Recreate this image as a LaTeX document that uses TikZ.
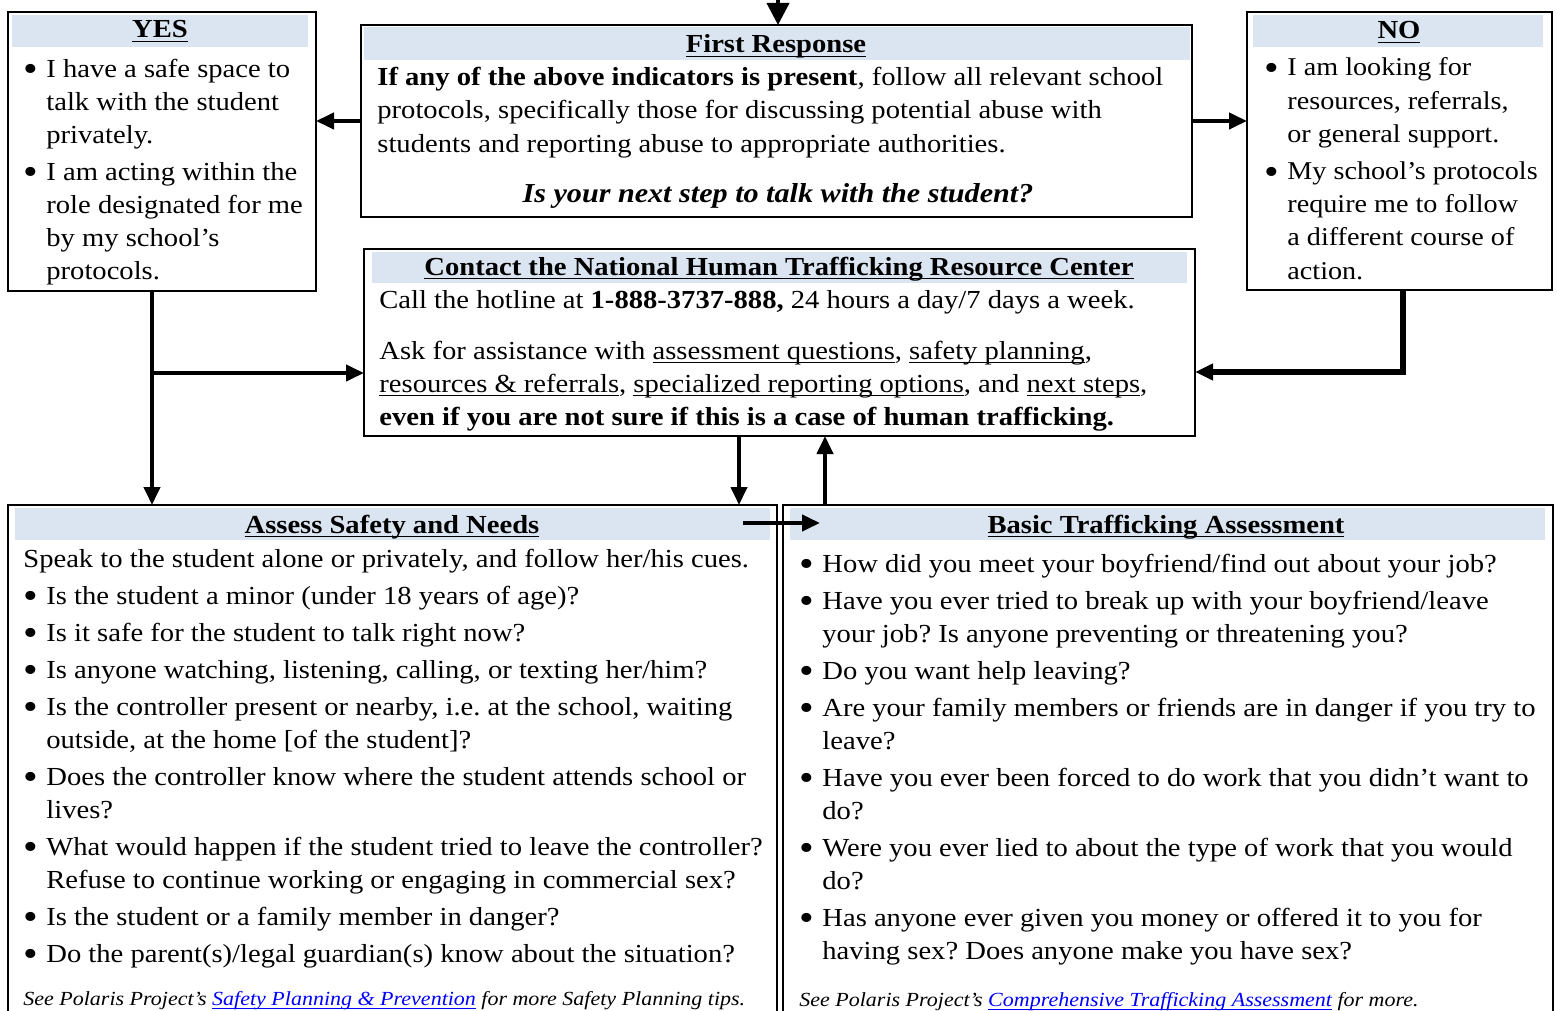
\documentclass[tikz,border=0pt]{standalone}
\usepackage{fontspec}
\setmainfont{Liberation Serif}[FakeStretch=1.1]
\usetikzlibrary{arrows.meta}
\definecolor{hdrblue}{HTML}{DBE5F1}
\definecolor{lnk}{RGB}{0,0,255}
\frenchspacing
\newsavebox\ulbox
\newcommand{\myul}[1]{\sbox\ulbox{#1}\rlap{\rule[-2.1pt]{\wd\ulbox}{0.75pt}}\usebox\ulbox}
\newcommand{\bi}{\makebox[11.5pt][l]{\raisebox{-2.4pt}{\fontsize{19}{0}\selectfont\textbullet}}}
\newcommand{\ci}{\hspace*{11.5pt}}
\begin{document}
\begin{tikzpicture}[x=0.5pt,y=-0.5pt,
  box/.style={draw, line width=1pt, inner sep=0pt, outer sep=0pt},
  body/.style={anchor=base west, inner sep=0pt, align=left, font=\fontsize{13}{16.5}\selectfont},
  ttl/.style={anchor=base, inner sep=0pt, font=\fontsize{13}{16.5}\selectfont\bfseries},
  note/.style={anchor=base west, inner sep=0pt, font=\fontsize{10}{13}\selectfont\itshape},
  arr/.style={line width=2pt, -{Triangle[length=9pt,width=8pt]}},
]
\useasboundingbox (0,0) rectangle (1557,1011);
\clip (0,0) rectangle (1557,1011);

% header fills
\fill[hdrblue] (12,15) rectangle (308,47);
\fill[hdrblue] (364,27) rectangle (1190,60);
\fill[hdrblue] (1253,15) rectangle (1543,47);
\fill[hdrblue] (372,252) rectangle (1187,283);
\fill[hdrblue] (15,508) rectangle (770,540);
\fill[hdrblue] (790,508) rectangle (1545,540);

% boxes
\node[box, minimum width=154pt, minimum height=139.5pt] (yes) at (162,151.5) {};
\node[box, minimum width=415.5pt, minimum height=96pt] (fr) at (776.5,121) {};
\node[box, minimum width=152.5pt, minimum height=139pt] (no) at (1399.5,151) {};
\node[box, minimum width=415.5pt, minimum height=93.5pt] (ct) at (779.5,342.5) {};
\node[box, minimum width=384.5pt, minimum height=262.5pt] (as) at (392.5,767.5) {};
\node[box, minimum width=385pt, minimum height=262.5pt] (bt) at (1168,767.5) {};

% YES (multi-line nodes are placed by the baseline of their last line)
\node[ttl] (yesT) at (160,38) {\myul{YES}};
\node[body] (yesB) at (23,279) {\bi I have a safe space to\\ \ci talk with the student\\ \ci privately.\\[2pt]
\bi I am acting within the\\ \ci role designated for me\\ \ci by my school’s\\ \ci protocols.};

% First Response
\node[ttl] (frT) at (776,53) {\myul{First Response}};
\node[body] (frB) at (377,152) {\textbf{If any of the above indicators is present}, follow all relevant school\\
protocols, specifically those for discussing potential abuse with\\
students and reporting abuse to appropriate authorities.};
\node[ttl, font=\fontsize{13.7}{16.5}\selectfont\bfseries\itshape] (frQ) at (778,202) {Is your next step to talk with the student?};

% NO
\node[ttl] (noT) at (1399,39) {\myul{NO}};
\node[body, font=\fontsize{12.8}{16.6}\selectfont] (noB) at (1264,279) {\bi I am looking for\\ \ci resources, referrals,\\ \ci or general support.\\[2pt]
\bi My school’s protocols\\ \ci require me to follow\\ \ci a different course of\\ \ci action.};

% Contact
\node[ttl] (ctT) at (779,275) {\myul{Contact the National Human Trafficking Resource Center}};
\node[body] (ctB) at (379,425) {Call the hotline at \textbf{1-888-3737-888,} 24 hours a day/7 days a week.\\[9pt]
Ask for assistance with \myul{assessment questions}, \myul{safety planning},\\
\myul{resources \& referrals}, \myul{specialized reporting options}, and \myul{next steps},\\
\textbf{even if you are not sure if this is a case of human trafficking.}};

% Assess
\node[ttl] (asT) at (392,533) {\myul{Assess Safety and Needs}};
\node[body] (asB) at (23,962) {Speak to the student alone or privately, and follow her/his cues.\\[2pt]
\bi Is the student a minor (under 18 years of age)?\\[2pt]
\bi Is it safe for the student to talk right now?\\[2pt]
\bi Is anyone watching, listening, calling, or texting her/him?\\[2pt]
\bi Is the controller present or nearby, i.e. at the school, waiting\\ \ci outside, at the home [of the student]?\\[2pt]
\bi Does the controller know where the student attends school or\\ \ci lives?\\[2pt]
\bi What would happen if the student tried to leave the controller?\\ \ci Refuse to continue working or engaging in commercial sex?\\[2pt]
\bi Is the student or a family member in danger?\\[2pt]
\bi Do the parent(s)/legal guardian(s) know about the situation?};
\node[note] (asN) at (23,1005) {See Polaris Project’s {\color{lnk}\myul{Safety Planning \& Prevention}} for more Safety Planning tips.};

% Basic
\node[ttl] (btT) at (1166,533) {\myul{Basic Trafficking Assessment}};
\node[body] (btB) at (799,959) {\bi How did you meet your boyfriend/find out about your job?\\[2pt]
\bi Have you ever tried to break up with your boyfriend/leave\\ \ci your job? Is anyone preventing or threatening you?\\[2pt]
\bi Do you want help leaving?\\[2pt]
\bi Are your family members or friends are in danger if you try to\\ \ci leave?\\[2pt]
\bi Have you ever been forced to do work that you didn’t want to\\ \ci do?\\[2pt]
\bi Were you ever lied to about the type of work that you would\\ \ci do?\\[2pt]
\bi Has anyone ever given you money or offered it to you for\\ \ci having sex? Does anyone make you have sex?};
\node[note] (btN) at (799,1006) {See Polaris Project’s {\color{lnk}\myul{Comprehensive Trafficking Assessment}} for more.};

% connectors
\coordinate (tp) at (778,-4);
\draw[arr, -{Triangle[length=11pt,width=11pt]}] (tp) -- (tp |- fr.north);
\draw[arr] (fr.west) -- (fr.west -| yes.east);
\draw[arr] (fr.east) -- (fr.east -| no.west);
\coordinate (ya) at (152,0);
\draw[arr] (yes.south -| ya) -- (ya |- as.north);
\coordinate (yb) at (152,373);
\draw[arr] (yb) -- (yb -| ct.west);
\coordinate (nb) at (1403,372);
\draw[arr, line width=2.8pt] (no.south -| nb) -- (nb) -- (nb -| ct.east);
\coordinate (cd) at (739,0);
\draw[arr] (ct.south -| cd) -- (cd |- as.north);
\coordinate (bu) at (825,0);
\draw[arr] (bu |- bt.north) -- (bu |- ct.south);
\coordinate (hs) at (743,523);
\coordinate (he) at (820,523);
\draw[arr] (hs) -- (he);
\end{tikzpicture}
\end{document}
